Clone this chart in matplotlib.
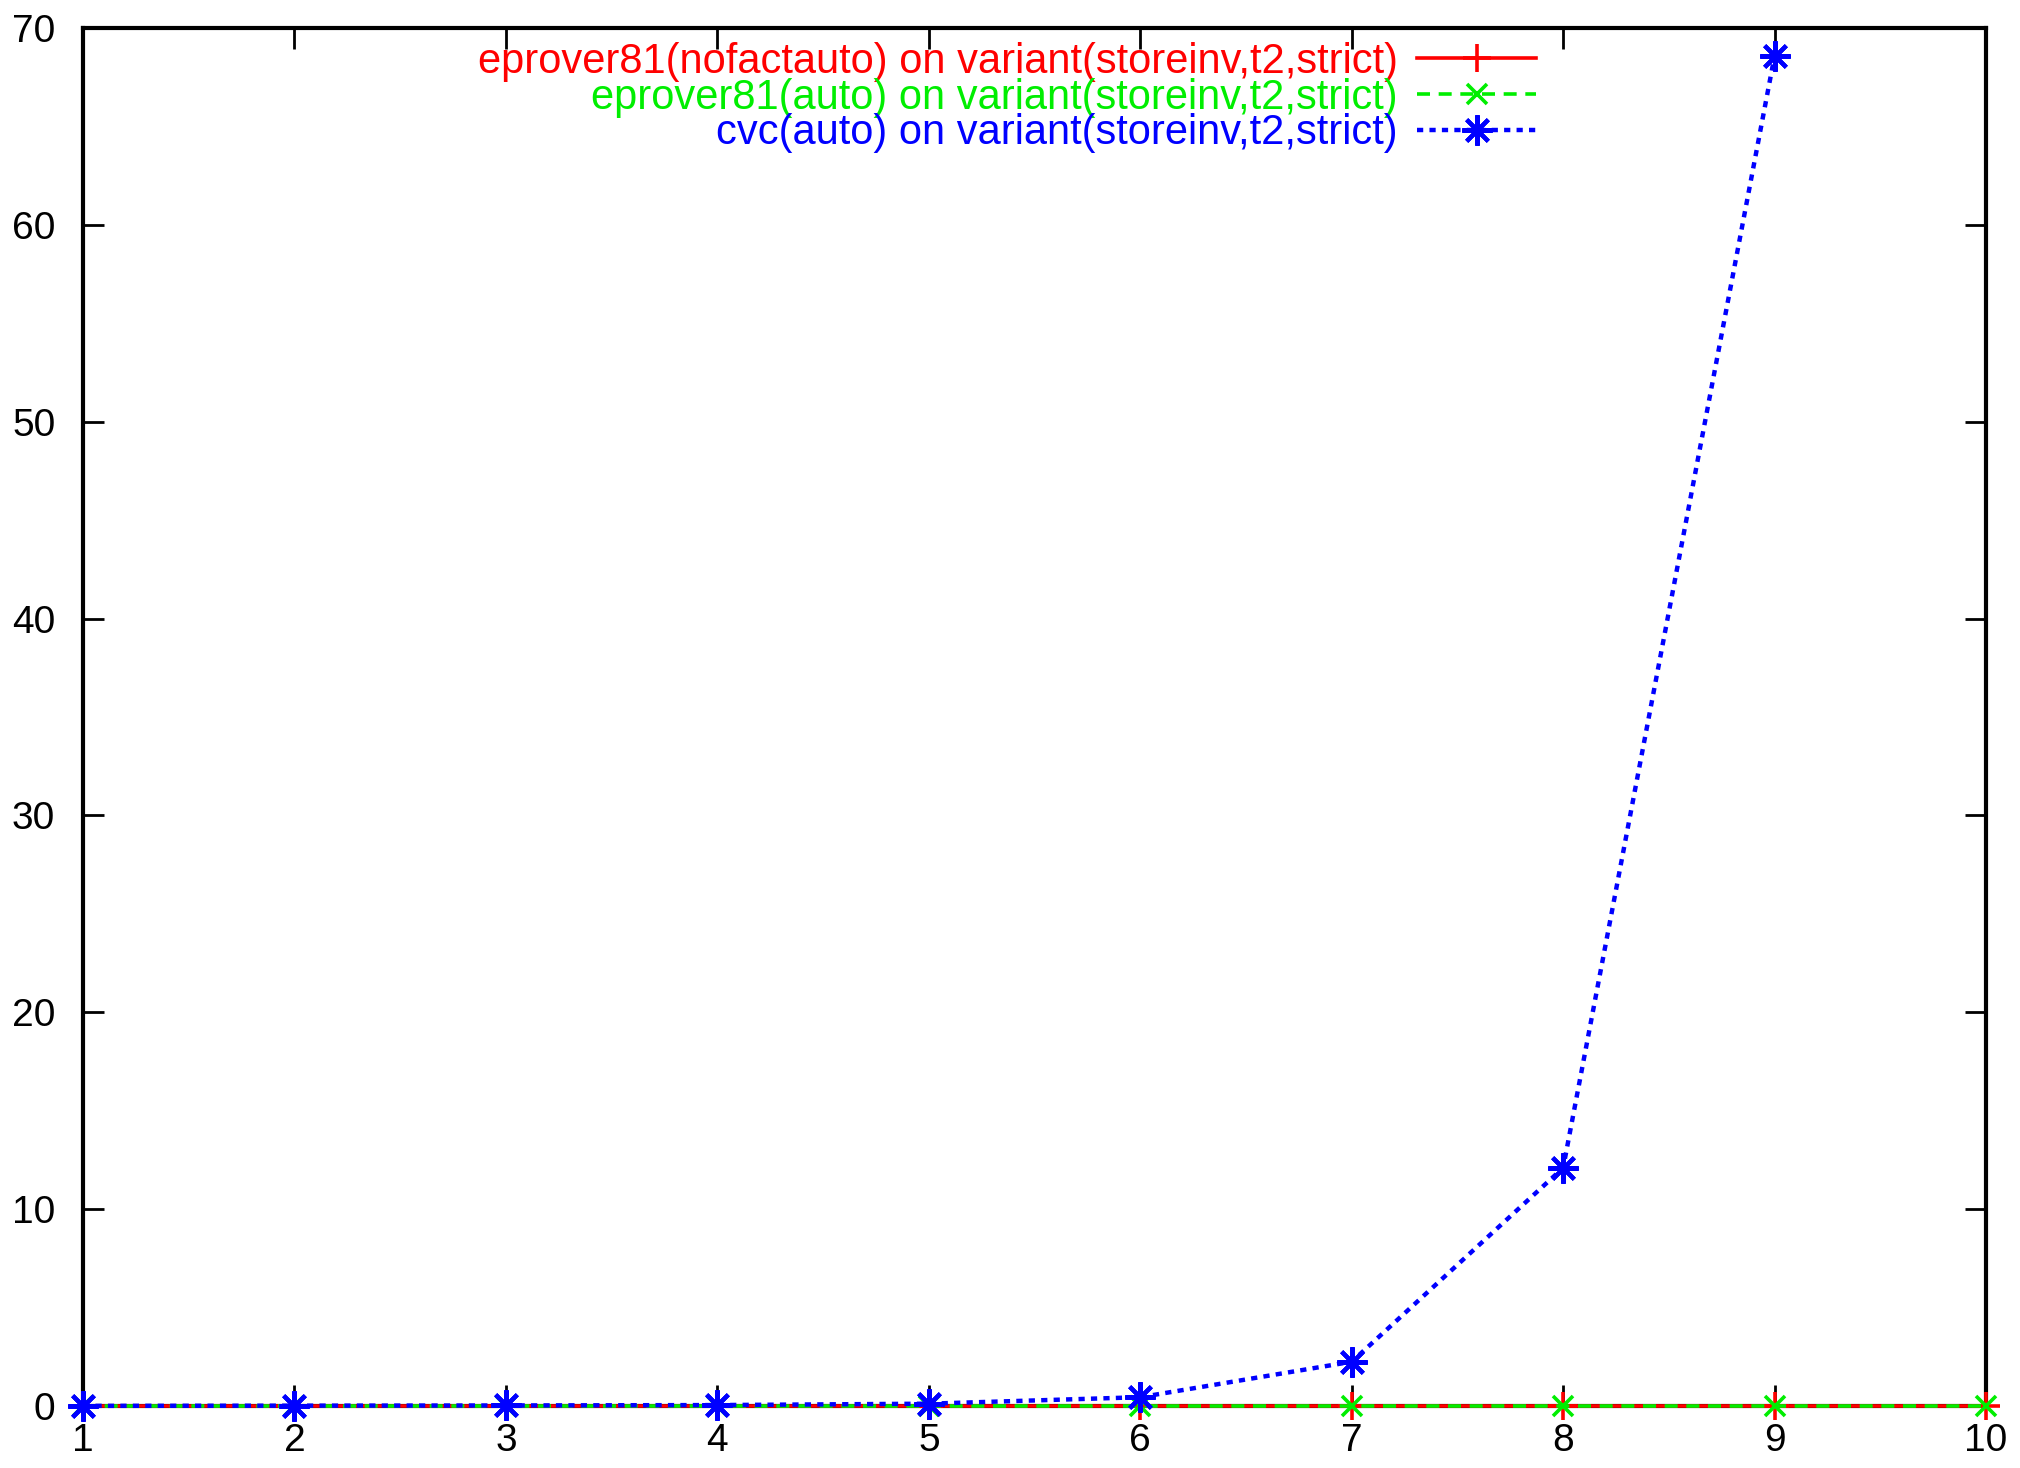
import matplotlib
matplotlib.use("Agg")
import matplotlib.pyplot as plt

# Run-time measurements per problem size
sizes = [1, 2, 3, 4, 5, 6, 7, 8, 9, 10]
eprover_nofact = [0.0, 0.0, 0.0, 0.0, 0.0, 0.0, 0.0, 0.0, 0.0, 0.0]
eprover_auto = [0.0, 0.0, 0.0, 0.0, 0.0, 0.0, 0.0, 0.0, 0.0, 0.0]
cvc_sizes = [1, 2, 3, 4, 5, 6, 7, 8, 9]
cvc_auto = [0.01, 0.02, 0.03, 0.05, 0.12, 0.45, 2.25, 12.1, 68.6]

labels = [
    "eprover81(nofactauto) on variant(storeinv,t2,strict)",
    "eprover81(auto) on variant(storeinv,t2,strict)",
    "cvc(auto) on variant(storeinv,t2,strict)",
]
x_ticks = [1, 2, 3, 4, 5, 6, 7, 8, 9, 10]
y_ticks = [0, 10, 20, 30, 40, 50, 60, 70]

plt.rcParams["font.family"] = ["Liberation Sans", "DejaVu Sans"]

fig = plt.figure(figsize=(20.2, 14.68), dpi=100)
ax = fig.add_axes([0.0411, 0.0422, 0.9421, 0.9387])

ax.plot(sizes, eprover_nofact, color="#ff0000", lw=2.6, ls="-",
        marker="+", ms=20, mew=2.6, label=labels[0], clip_on=False, zorder=3)
ax.plot(sizes, eprover_auto, color="#00ee00", lw=2.6, ls=(0, (3.6, 2.4)),
        marker="x", ms=15, mew=2.6, label=labels[1], clip_on=False, zorder=4)
ax.plot(cvc_sizes, cvc_auto, color="#0000ff", lw=3.2, ls=(0, (1.4, 1.4)),
        marker=(8, 2, 0), ms=22, mew=3.0, label=labels[2], clip_on=False, zorder=5)

ax.set_xlim(1, 10)
ax.set_ylim(0, 70)
ax.set_xticks(x_ticks)
ax.set_yticks(y_ticks)
ax.tick_params(axis="both", which="both", direction="in", length=15, width=2,
               top=True, right=True, labelsize=28, pad=12)
ax.tick_params(axis="y", pad=20)
for s in ax.spines.values():
    s.set_linewidth(3)

leg = ax.legend(loc="upper right", bbox_to_anchor=(0.7635, 0.99), frameon=False,
                markerfirst=False, labelcolor="linecolor", fontsize=30,
                handlelength=2.85, handletextpad=0.46, labelspacing=-0.1,
                borderaxespad=0, borderpad=0)
for t in leg.get_texts():
    t.set_horizontalalignment("right")

fig.savefig("out.png", dpi=100)
